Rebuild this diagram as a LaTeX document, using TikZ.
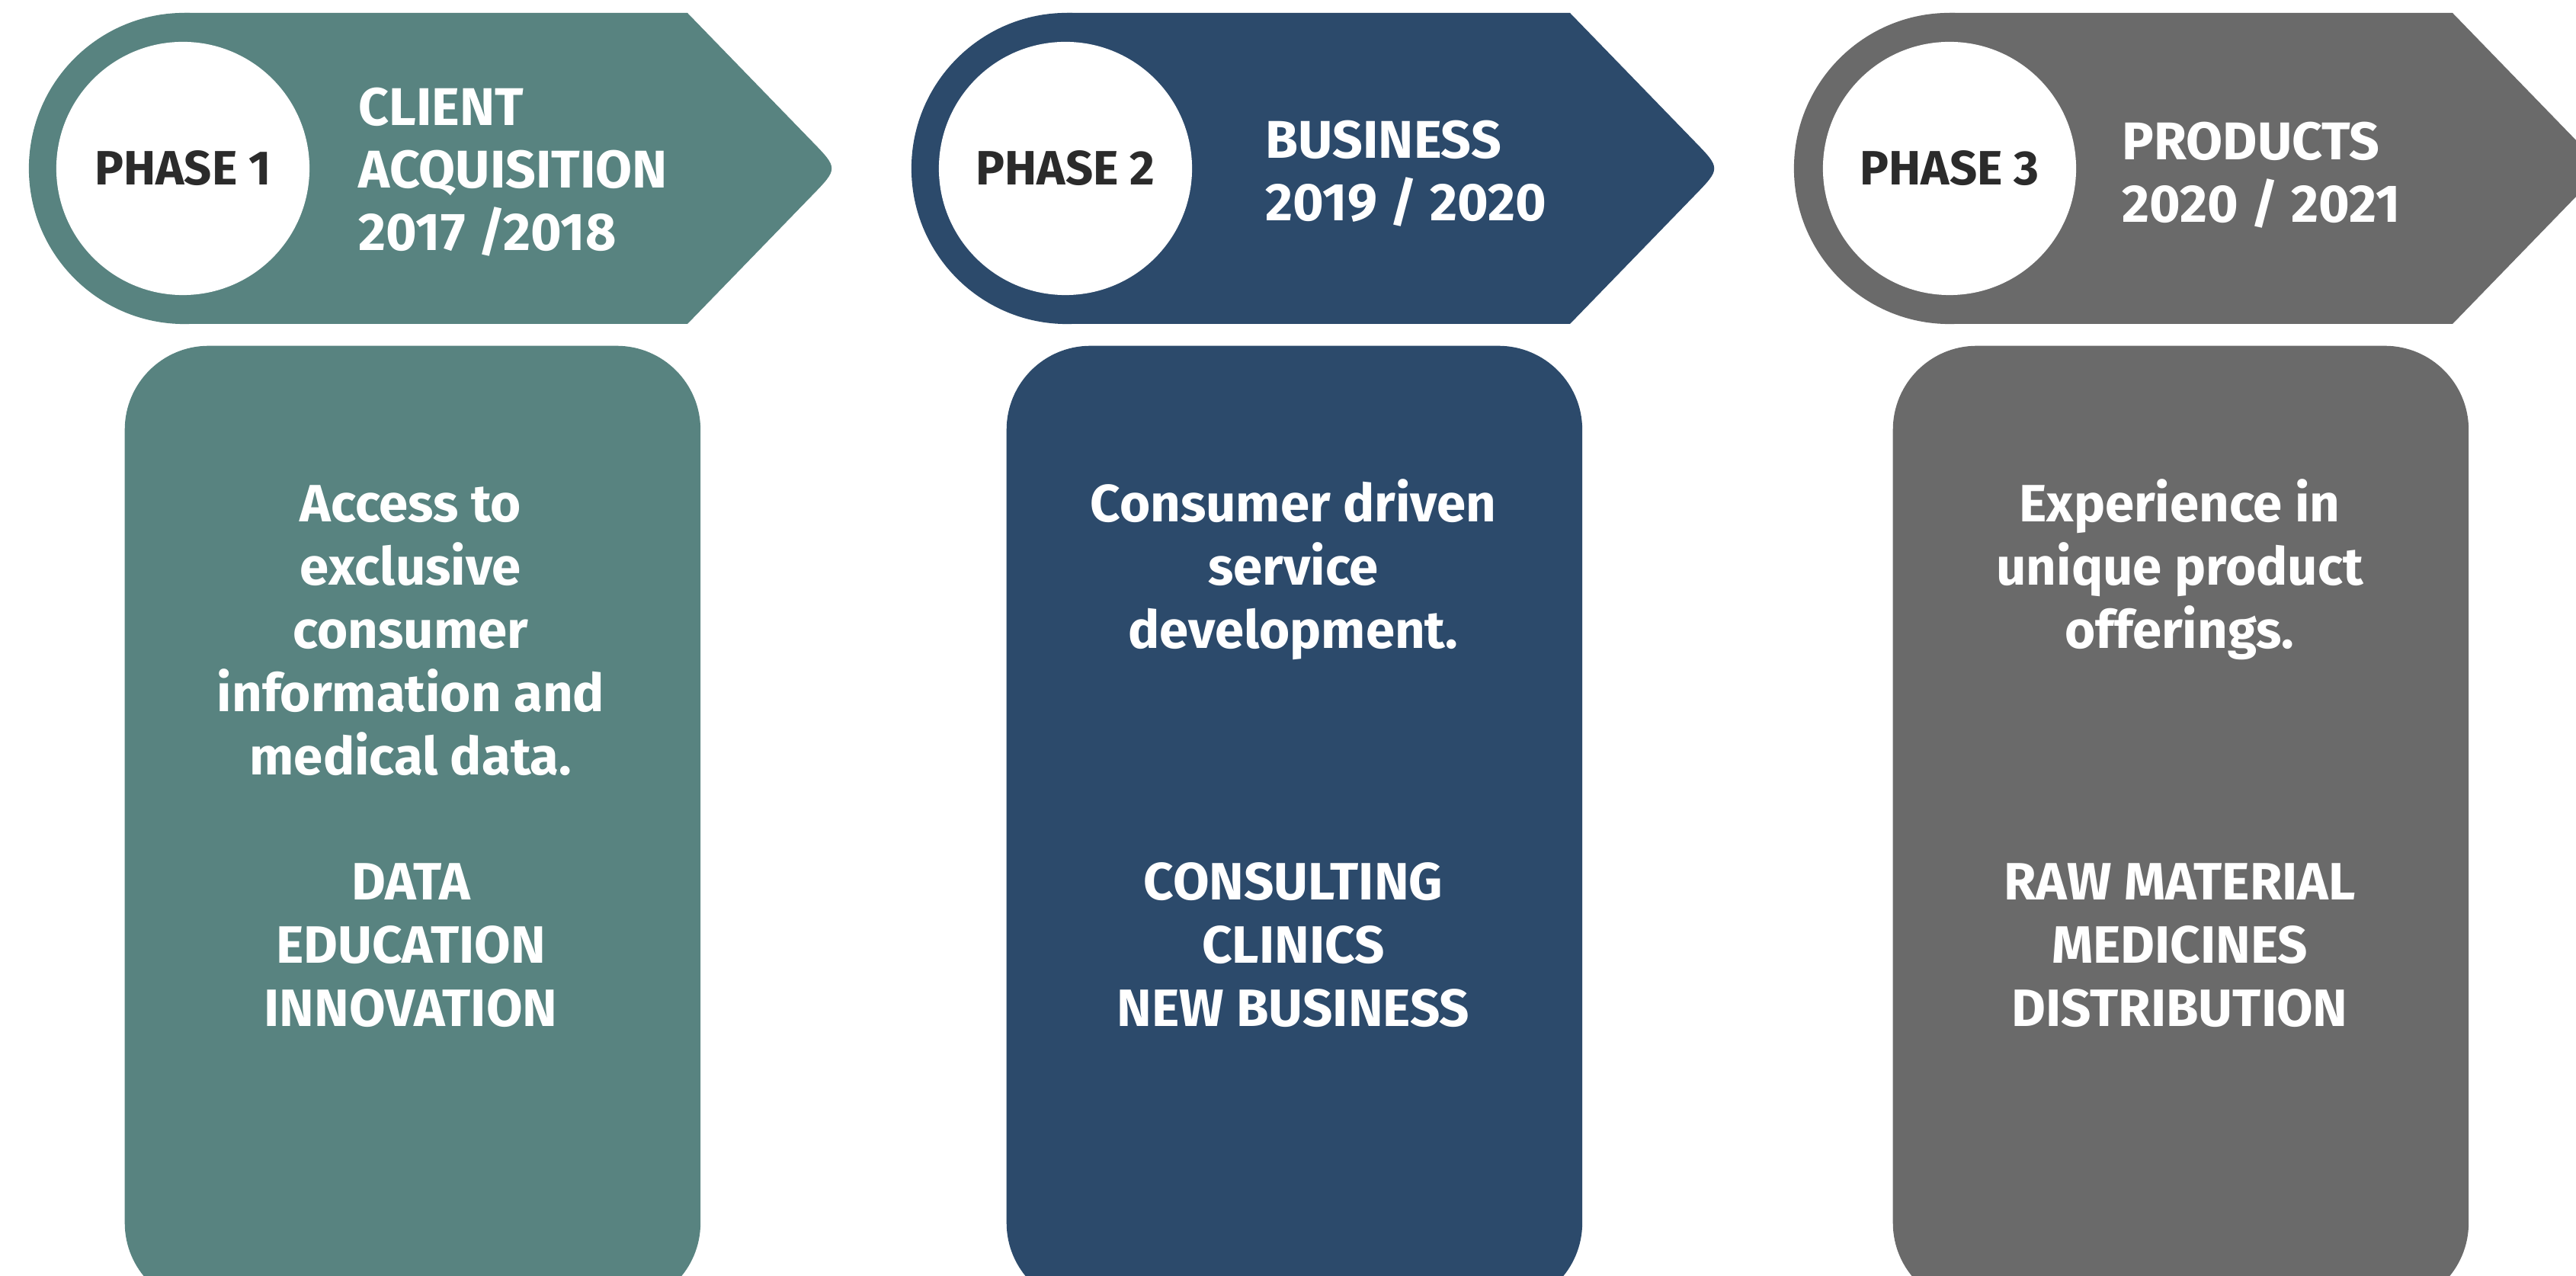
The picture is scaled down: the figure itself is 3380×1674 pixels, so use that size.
\documentclass[tikz,border=0pt]{standalone}
\usepackage{fontspec}
\setmainfont{Fira Sans}
\definecolor{cteal}{RGB}{88,131,128}
\definecolor{cnavy}{RGB}{44,74,107}
\definecolor{cgrey}{RGB}{106,106,106}
\definecolor{cdark}{RGB}{43,43,43}
\tikzset{
  x=0.01cm, y=-0.01cm,
  phaselbl/.style={text=cdark, font=\bfseries\fontsize{18}{22}\selectfont, inner sep=0pt},
  headlbl/.style={text=white, font=\bfseries\fontsize{19.8}{23.3}\selectfont, align=left, anchor=west, inner sep=0pt},
  bodylbl/.style={text=white, font=\bfseries\fontsize{19.6}{23.6}\selectfont, align=center, inner sep=0pt},
  holecircle/.style={fill=white, draw=none, circle, minimum size=3.32cm, inner sep=0pt},
  cardbox/.style={draw=none, rounded corners=1.1cm, minimum width=7.55cm, minimum height=12.6cm, anchor=north west, inner sep=0pt}
}
\newcommand{\phasebanner}[2]{%
  \fill[#2] (#1,221) circle[radius=2.04cm];
  \fill[#2] (#1,17) -- ({#1+660},17) -- ({#1+823},185)
    .. controls ({#1+858},221) .. ({#1+823},257)
    -- ({#1+660},425) -- (#1,425) -- cycle;
}
\begin{document}
\begin{tikzpicture}
\useasboundingbox (0,0) rectangle (3380,1674);
\clip (0,0) rectangle (3380,1674);
\fill[white] (0,0) rectangle (3380,1674);

% Phase 1
\phasebanner{242}{cteal}
\node[holecircle] (c1) at (240,221) {};
\node[phaselbl] (p1) at (c1) {PHASE 1};
\node[headlbl] (h1) at (470,226) {CLIENT\\ACQUISITION\\2017 /2018};
\node[cardbox, fill=cteal] (b1) at (163,453) {};
\node[bodylbl] (d1) at (539,827) {Access to\\exclusive\\consumer\\information and\\medical data.};
\node[bodylbl] (k1) at (539,1240) {DATA\\EDUCATION\\INNOVATION};

% Phase 2
\phasebanner{1400}{cnavy}
\node[holecircle] (c2) at (1398,221) {};
\node[phaselbl] (p2) at (c2) {PHASE 2};
\node[headlbl] (h2) at (1660,228) {BUSINESS\\2019 / 2020};
\node[cardbox, fill=cnavy] (b2) at (1320,453) {};
\node[bodylbl] (d2) at (1697,747) {Consumer driven\\service\\development.};
\node[bodylbl] (k2) at (1697,1240) {CONSULTING\\CLINICS\\NEW BUSINESS};

% Phase 3
\phasebanner{2558}{cgrey}
\node[holecircle] (c3) at (2558,221) {};
\node[phaselbl] (p3) at (c3) {PHASE 3};
\node[headlbl] (h3) at (2784,230) {PRODUCTS\\2020 / 2021};
\node[cardbox, fill=cgrey] (b3) at (2483,453) {};
\node[bodylbl] (d3) at (2860,747) {Experience in\\unique product\\offerings.};
\node[bodylbl] (k3) at (2860,1240) {RAW MATERIAL\\MEDICINES\\DISTRIBUTION};
\end{tikzpicture}
\end{document}
